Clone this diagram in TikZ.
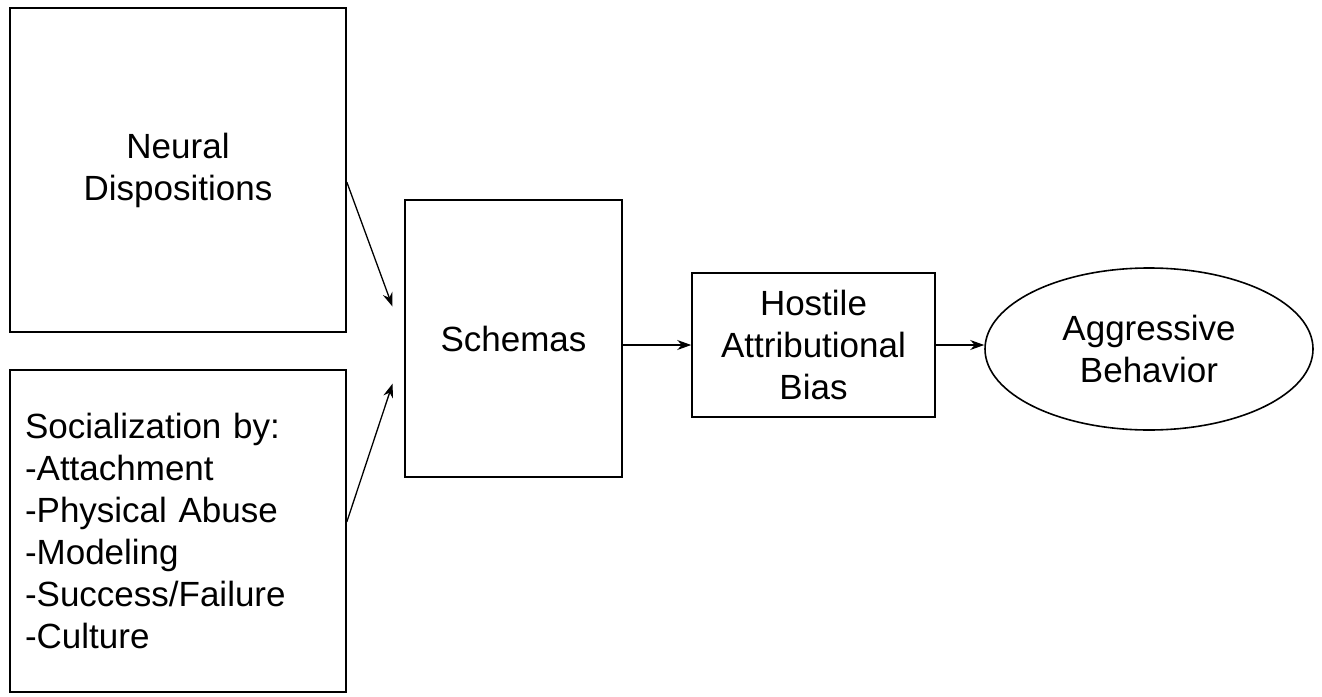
\documentclass[tikz,border=0pt]{standalone}
\usepackage{fontspec}
\setmainfont{Liberation Sans}
\usetikzlibrary{arrows.meta,shapes.geometric}

\begin{document}
\begin{tikzpicture}[x=1pt,y=-1pt,
  box/.style={draw,line width=1.6pt,inner sep=0pt,align=center,font=\fontsize{35}{42}\selectfont},
  arr/.style={line width=1.3pt,-{Stealth[length=14pt,width=10pt]}}]

\useasboundingbox (0,0) rectangle (1322,696);

\node[box,minimum width=336pt,minimum height=324pt] (neural) at (178,170) {Neural\\Dispositions};
\node[box,text width=306pt,inner xsep=15pt,align=left,minimum height=322pt] (social) at (178,531)
  {Socialization by:\\-Attachment\\-Physical Abuse\\-Modeling\\-Success/Failure\\-Culture};

\node[box,minimum width=217pt,minimum height=277pt] (schemas) at (513.5,338.5) {Schemas};
\node[box,minimum width=243pt,minimum height=144pt] (hostile) at (813.5,345) {Hostile\\Attributional\\Bias};
\node[box,ellipse,minimum width=328pt,minimum height=162pt] (aggr) at (1149,349) {Aggressive\\Behavior};

\draw[arr,shorten >=34pt] ([yshift=-12pt]neural.east) -- (schemas.west);
\draw[arr,shorten >=37pt] ([yshift=9pt]social.east) -- ([yshift=-10pt]schemas.west);
\draw[arr] (schemas.east |- hostile.west) -- (hostile.west);
\draw[arr] (hostile.east) -- (hostile.east -| aggr.west);
\end{tikzpicture}
\end{document}
